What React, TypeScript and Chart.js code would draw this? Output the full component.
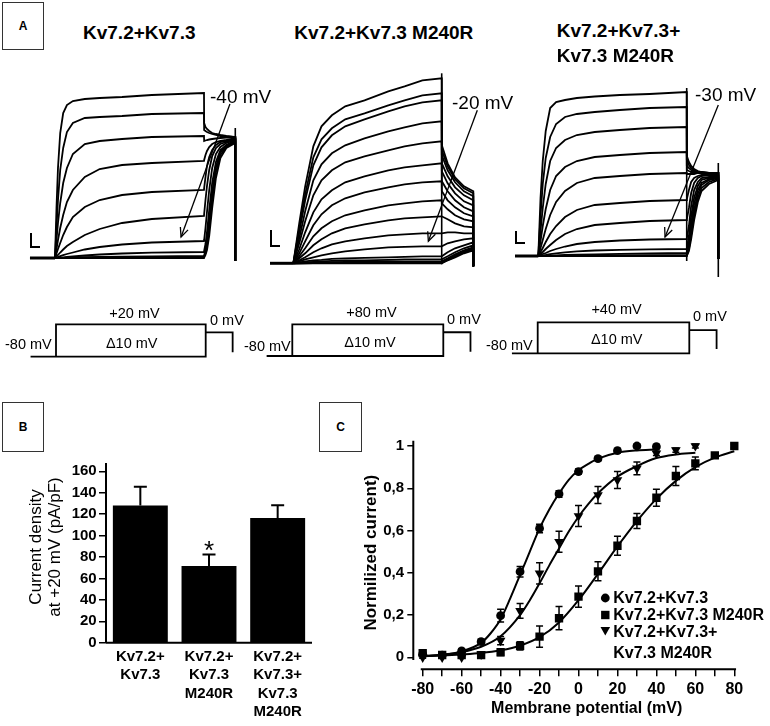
import React, { useEffect, useRef } from 'react';
import { Chart, registerables } from 'chart.js';

Chart.register(...registerables);

const FONT = '"Liberation Sans", Arial, Helvetica, sans-serif';
Chart.defaults.font.family = FONT;
Chart.defaults.color = '#000';

// ================= Panel A : current traces (time in ms, current in a.u.) =================
// A1  Kv7.2+Kv7.3, steps +20 ... -80 mV
const a1Holding = [[-168, 0], [0, 0]];
const a1ActTime = [0, 10, 20, 35, 55, 80, 120, 200, 300, 450, 650, 1000];
const a1Act = [
  [0, 50, 90, 125, 145, 153, 157, 159, 160, 161, 163, 165],
  [0, 30, 58, 88, 110, 126, 135, 140, 141, 142, 144, 145],
  [0, 18, 35, 55, 75, 90, 104, 114, 117, 119, 121, 122],
  [0, 9, 18, 30, 43, 56, 68, 81, 89, 93, 95, 97],
  [0, 4.5, 9, 15, 23, 31, 41, 51, 58, 63, 66, 68],
  [0, 1.5, 3, 5.5, 8.5, 12, 16, 23, 29, 35, 39, 42],
  [0, 0.5, 1, 1.8, 2.8, 4, 5.5, 8.5, 11, 13.5, 15.5, 17],
  [0, 0, 0.2, 0.4, 0.7, 1, 1.5, 2.5, 3.5, 4.5, 5.3, 6],
  [0, 0, 0, 0.1, 0.2, 0.3, 0.5, 0.8, 1.1, 1.4, 1.7, 2],
  [0, 0, 0, 0, 0.1, 0.1, 0.2, 0.3, 0.5, 0.7, 0.8, 1],
  [0, 0, 0, 0, 0, 0, 0, 0, 0, 0, 0, 0],
];
const a1TailTime = [1001, 1010, 1020, 1035, 1055, 1080, 1110, 1150, 1210];
const a1Tail = [
  [135, 131, 129, 127, 125, 124, 123, 122, 121],
  [128, 127, 126, 125, 124, 123, 122, 121.5, 121],
  [117, 117.5, 118, 118.5, 119, 119.5, 120, 120.5, 121],
  [98, 103, 107, 111, 114, 116, 117, 118, 120],
  [70, 81, 92, 101, 108, 113, 116, 117, 119],
  [44, 58, 72, 88, 102, 110, 114, 116, 119],
  [18, 30, 46, 68, 90, 104, 111, 115, 118],
  [7, 14, 26, 48, 75, 96, 108, 113, 118],
  [2.5, 8, 18, 38, 66, 91, 106, 112, 117],
  [1.5, 5, 12, 30, 58, 86, 103, 111, 116],
  [0.5, 3, 8, 22, 50, 80, 100, 110, 115],
];
const a1EndLevel = -3;
const a1Artifacts = [[[1210, 130], [1210, -3]]];
const a1Arrow = [[1174, 154], [846, 21]];

// A2  Kv7.2+Kv7.3 M240R, steps +80 ... -80 mV
const a2Holding = [[-157, 0], [0, 0]];
const a2ActTime = [0, 40, 80, 135, 190, 260, 350, 480, 640, 750, 870, 1000];
const a2Act = [
  [0, 40, 77, 117, 137, 148, 157, 163, 172, 177, 183, 185],
  [0, 35, 69, 106, 124, 135, 144, 150, 158, 163, 168, 170],
  [0, 31, 63, 98, 116, 128, 137, 144, 152, 157, 161, 163],
  [0, 25, 52, 83, 99, 110, 118, 125, 132, 136, 140, 142],
  [0, 20, 42, 68, 83, 93, 101, 107, 113, 117, 120, 122],
  [0, 14, 31, 51, 64, 73, 81, 87, 93, 96, 98, 100],
  [0, 10, 22, 38, 49, 58, 65, 71, 76, 79, 81, 82],
  [0, 7, 15, 27, 35, 42, 48, 53, 58, 60, 62, 63],
  [0, 5, 10, 18, 24, 30, 35, 39, 43, 45, 46, 47],
  [0, 3, 6, 11, 15, 19, 22, 25, 28, 29, 30, 30],
  [0, 2, 4, 6, 8, 10, 12, 14, 16, 16.5, 17, 17],
  [0, 1, 2, 3, 3.5, 4.5, 5, 5.5, 6, 6.5, 7, 7],
  [0, 0.5, 1, 1.5, 2, 2.5, 3, 3, 3.5, 4, 4, 4],
  [0, 0.3, 0.5, 0.8, 1, 1.2, 1.5, 1.6, 1.8, 2, 2, 2],
  [0, 0, 0.2, 0.3, 0.5, 0.6, 0.7, 0.8, 0.9, 1, 1, 1],
  [0, 0, 0, 0.1, 0.2, 0.3, 0.3, 0.4, 0.4, 0.5, 0.5, 0.5],
  [0, 0, 0, 0, 0, 0, 0, 0, 0, 0, 0, 0],
];
const a2TailTime = [1001, 1040, 1090, 1150, 1213];
const a2Tail = [
  [118, 100, 86, 77, 72],
  [113, 97, 84, 75, 70],
  [108, 93, 81, 72, 67],
  [100, 87, 76, 68, 63],
  [92, 80, 70, 62, 58],
  [82, 72, 63, 56, 52],
  [72, 63, 56, 50, 47],
  [60, 54, 48, 44, 42],
  [47, 44, 40, 37, 36],
  [30, 31, 31, 30, 30],
  [17, 20, 22, 24, 25],
  [7, 11, 15, 18, 21],
  [4, 7, 11, 15, 18],
  [2, 5, 9, 13, 16],
  [1, 4, 8, 12, 15],
  [0.5, 3, 7, 11, 14],
  [0, 3, 6, 10, 13],
];
const a2EndLevel = -3;
const a2Artifacts = [[[1000, -1], [1000, 190]]];
const a2Arrow = [[1240, 153], [910, 22]];

// A3  Kv7.2+Kv7.3+Kv7.3 M240R, steps +40 ... -80 mV
const a3Holding = [[-157, 0], [0, 0]];
const a3ActTime = [0, 15, 30, 50, 80, 120, 180, 260, 380, 550, 750, 1000];
const a3Act = [
  [0, 58, 95, 125, 148, 154, 156, 158, 159.5, 161, 162, 164],
  [0, 40, 72, 98, 119, 132, 139, 142, 144, 146, 148, 149],
  [0, 25, 48, 72, 95, 108, 116, 121, 124, 126, 128, 129],
  [0, 15, 30, 47, 66, 80, 89, 95, 99, 101, 103, 104],
  [0, 8, 16, 27, 41, 54, 65, 73, 78, 80, 82, 83],
  [0, 4, 8, 14, 22, 30, 39, 46, 51, 53, 55, 56],
  [0, 2, 4, 7, 11, 16, 22, 27, 31, 33, 35, 36],
  [0, 1, 2, 3, 5, 7, 9.5, 12, 14, 15.5, 16.5, 17],
  [0, 0.3, 0.6, 1, 1.8, 2.6, 3.6, 4.6, 5.5, 6.2, 6.7, 7],
  [0, 0, 0, 0.2, 0.4, 0.6, 1, 1.3, 1.7, 2.2, 2.6, 3],
  [0, 0, 0, 0, 0.1, 0.2, 0.3, 0.4, 0.6, 0.7, 0.9, 1],
  [0, 0, 0, 0, 0, 0, 0, 0, 0, 0, 0, 0],
  [0, 0, 0, 0, 0, 0, 0, 0, 0, 0, 0, 0],
];
const a3TailTime = [1001, 1015, 1030, 1050, 1075, 1100, 1150, 1213];
const a3Tail = [
  [100, 94, 90, 87, 85, 84, 83, 83],
  [96, 91, 88, 86, 84, 84, 83, 83],
  [90, 88, 86, 85, 84, 83, 83, 83],
  [86, 85, 84, 84, 83, 83, 83, 83],
  [82, 82, 82, 82, 83, 83, 83, 83],
  [57, 66, 74, 78, 80, 81, 82, 82],
  [37, 48, 63, 73, 78, 80, 81, 81],
  [18, 30, 50, 66, 74, 78, 79, 80],
  [8, 20, 40, 58, 70, 76, 78, 80],
  [3, 13, 32, 52, 66, 73, 77, 79],
  [1, 9, 26, 46, 62, 71, 76, 78],
  [0, 7, 21, 41, 58, 68, 74, 77],
  [0, 5, 17, 36, 54, 65, 72, 76],
];
const a3EndLevel = -3;
const a3Artifacts = [[[1000, -5], [1000, 168]], [[1213, 93], [1213, -21]]];
const a3Arrow = [[1213, 151], [854, 19]];

// Voltage protocol (schematic levels: holding 0, test step 1, tail 0.75)
const protoBoxTime = [-170, 0, 0, 1000, 1000, 0];
const protoBoxLevel = [0, 0, 1, 1, 0, 0];
const protoTailTime = [1000, 1180, 1180];
const protoTailLevel = [0.75, 0.75, 0.135];

// ================= Panel B : current density at +20 mV =================
const bCategories = [
  ['Kv7.2+', 'Kv7.3'],
  ['Kv7.2+', 'Kv7.3', 'M240R'],
  ['Kv7.2+', 'Kv7.3+', 'Kv7.3', 'M240R'],
];
const bMeans = [128, 71.5, 116.5];
const bErrors = [17.7, 10.8, 11.8];
const bSignificant = [false, true, false];

// ================= Panel C : normalized G-V =================
const cVoltage = [-80, -70, -60, -50, -40, -30, -20, -10, 0, 10, 20, 30, 40, 50, 60, 70, 80];
const cWtMean = [0.015, 0.01, 0.03, 0.074, 0.197, 0.405, 0.61, 0.773, 0.879, 0.94, 0.978, 1.0, 0.997];
const cWtSem = [0.01, 0.01, 0.01, 0.012, 0.03, 0.025, 0.02, 0.015, 0.012, 0.01, 0.01, 0.01, 0.01];
const cMutMean = [0.02, 0.011, 0.01, 0.01, 0.024, 0.054, 0.098, 0.185, 0.287, 0.407, 0.528, 0.645, 0.755, 0.858, 0.918, 0.956, 1.0];
const cMutSem = [0.01, 0.01, 0.01, 0.01, 0.015, 0.02, 0.05, 0.055, 0.05, 0.045, 0.045, 0.035, 0.04, 0.045, 0.03, 0.01, 0.01];
const cCoMean = [0.0, 0.0, 0.0, 0.014, 0.079, 0.22, 0.397, 0.547, 0.669, 0.768, 0.839, 0.894, 0.965, 0.981, 1.0];
const cCoSem = [0.005, 0.005, 0.005, 0.01, 0.02, 0.035, 0.05, 0.05, 0.05, 0.04, 0.04, 0.03, 0.01, 0.01, 0.01];
const cFitWtV = [-80, -70, -60, -50, -45, -40, -35, -30, -25, -20, -15, -10, -5, 0, 5, 10, 20, 30, 40];
const cFitWt = [0.006, 0.012, 0.028, 0.068, 0.115, 0.18, 0.28, 0.39, 0.5, 0.61, 0.7, 0.775, 0.84, 0.885, 0.915, 0.94, 0.968, 0.979, 0.983];
const cFitCoV = [-80, -70, -60, -50, -40, -30, -25, -20, -15, -10, -5, 0, 5, 10, 20, 30, 40, 50, 60];
const cFitCo = [0.006, 0.012, 0.025, 0.05, 0.1, 0.2, 0.27, 0.35, 0.435, 0.515, 0.595, 0.665, 0.725, 0.776, 0.855, 0.905, 0.943, 0.96, 0.968];
const cFitMutV = [-80, -70, -60, -50, -40, -30, -20, -10, 0, 10, 20, 30, 40, 50, 60, 70, 80];
const cFitMut = [0.005, 0.008, 0.013, 0.02, 0.033, 0.055, 0.095, 0.165, 0.27, 0.395, 0.525, 0.645, 0.75, 0.835, 0.9, 0.945, 0.975];
const cLegend = ['Kv7.2+Kv7.3', 'Kv7.2+Kv7.3 M240R', 'Kv7.2+Kv7.3+', 'Kv7.3 M240R'];

// ================= helpers =================
type Pt = { x: number; y: number };
const toPts = (arr: number[][]): Pt[] => arr.map(([x, y]) => ({ x, y }));
const zipPts = (xs: number[], ys: number[]): Pt[] => ys.map((y, i) => ({ x: xs[i], y }));

// value range that a canvas spanning [c0, c0+size] px covers, given two px->value anchors
function spanOf(c0: number, size: number, p0: number, v0: number, p1: number, v1: number) {
  const k = (v1 - v0) / (p1 - p0);
  const a = v0 + (c0 - p0) * k;
  const b = v0 + (c0 + size - p0) * k;
  return [Math.min(a, b), Math.max(a, b)];
}

function ChartCanvas({ left, top, width, height, build }: any) {
  const ref = useRef<HTMLCanvasElement>(null);
  useEffect(() => {
    const chart = new Chart(ref.current as HTMLCanvasElement, build());
    return () => chart.destroy();
  }, []);
  return (
    <canvas
      ref={ref}
      width={width}
      height={height}
      style={{ position: 'absolute', left, top, width, height }}
    />
  );
}

function Txt({ x, y, size = 14, bold = false, align = 'left', children }: any) {
  const tx = align === 'center' ? '-50%' : align === 'right' ? '-100%' : '0';
  return (
    <div
      style={{
        position: 'absolute',
        left: x,
        top: y,
        transform: `translate(${tx}, -50%)`,
        fontFamily: FONT,
        fontSize: size,
        fontWeight: bold ? 700 : 400,
        lineHeight: 1,
        whiteSpace: 'nowrap',
        color: '#000',
      }}
    >
      {children}
    </div>
  );
}

function LetterBox({ x, y, w, h, letter }: any) {
  return (
    <div
      style={{
        position: 'absolute',
        left: x,
        top: y,
        width: w,
        height: h,
        boxSizing: 'border-box',
        border: '1px solid #333',
        display: 'flex',
        alignItems: 'center',
        justifyContent: 'center',
        fontFamily: FONT,
        fontWeight: 700,
        fontSize: 12,
        color: '#000',
        background: '#fff',
      }}
    >
      {letter}
    </div>
  );
}

function ScaleBar({ x, y, w, h }: any) {
  return (
    <div
      style={{
        position: 'absolute',
        left: x,
        top: y,
        width: w,
        height: h,
        boxSizing: 'border-box',
        borderLeft: '2px solid #000',
        borderBottom: '2px solid #000',
      }}
    />
  );
}

const arrowPlugin = (arrow: number[][]) => ({
  id: 'arrowAnno',
  afterDatasetsDraw(chart: any) {
    const { ctx, scales } = chart;
    const x1 = scales.x.getPixelForValue(arrow[0][0]);
    const y1 = scales.y.getPixelForValue(arrow[0][1]);
    const x2 = scales.x.getPixelForValue(arrow[1][0]);
    const y2 = scales.y.getPixelForValue(arrow[1][1]);
    const ang = Math.atan2(y2 - y1, x2 - x1);
    const len = 10;
    const spr = 0.42;
    ctx.save();
    ctx.strokeStyle = '#000';
    ctx.lineWidth = 1.3;
    ctx.beginPath();
    ctx.moveTo(x1, y1);
    ctx.lineTo(x2, y2);
    ctx.stroke();
    ctx.beginPath();
    ctx.moveTo(x2 - len * Math.cos(ang - spr), y2 - len * Math.sin(ang - spr));
    ctx.lineTo(x2, y2);
    ctx.lineTo(x2 - len * Math.cos(ang + spr), y2 - len * Math.sin(ang + spr));
    ctx.stroke();
    ctx.restore();
  },
});

function traceBuild(p: any) {
  return () => {
    const [xMin, xMax] = spanOf(p.left, p.width, p.t0px, 0, p.t1000px, 1000);
    const [yMin, yMax] = spanOf(p.top, p.height, p.basePx, 0, p.basePx - 100, 100);
    const line = (data: Pt[], w = 1.8) => ({
      data,
      borderColor: '#000',
      borderWidth: w,
      pointRadius: 0,
      tension: 0,
      fill: false,
    });
    const endT = p.tailTime[p.tailTime.length - 1];
    const datasets: any[] = [line(toPts(p.holding), 3)];
    p.act.forEach((a: number[], i: number) => {
      datasets.push(
        line([
          ...zipPts(p.actTime, a),
          ...zipPts(p.tailTime, p.tail[i]),
          { x: endT, y: p.endLevel },
        ])
      );
    });
    p.artifacts.forEach((art: number[][]) => datasets.push(line(toPts(art), 1.6)));
    return {
      type: 'line',
      data: { datasets },
      options: {
        responsive: false,
        animation: false,
        events: [],
        layout: { padding: 0 },
        plugins: { legend: { display: false }, tooltip: { enabled: false } },
        scales: {
          x: { type: 'linear', display: false, min: xMin, max: xMax },
          y: { type: 'linear', display: false, min: yMin, max: yMax },
        },
      },
      plugins: [arrowPlugin(p.arrow)],
    };
  };
}

function protoBuild(p: any) {
  return () => {
    const [xMin, xMax] = spanOf(p.left, p.width, p.t0px, 0, p.t1000px, 1000);
    const [yMin, yMax] = spanOf(p.top, p.height, p.lev0px, 0, p.lev1px, 1);
    const line = (data: Pt[]) => ({
      data,
      borderColor: '#000',
      borderWidth: 1.8,
      pointRadius: 0,
      tension: 0,
      fill: false,
    });
    return {
      type: 'line',
      data: {
        datasets: [
          line(zipPts(protoBoxTime, protoBoxLevel)),
          line(zipPts(protoTailTime, protoTailLevel)),
        ],
      },
      options: {
        responsive: false,
        animation: false,
        events: [],
        layout: { padding: 0 },
        plugins: { legend: { display: false }, tooltip: { enabled: false } },
        scales: {
          x: { type: 'linear', display: false, min: xMin, max: xMax },
          y: { type: 'linear', display: false, min: yMin, max: yMax },
        },
      },
    };
  };
}

// ---------- Panel B ----------
const B_RECT = { left: 0, top: 440, width: 330, height: 286 };
function buildB() {
  const decor = {
    id: 'bDecor',
    afterDatasetsDraw(chart: any) {
      const { ctx, chartArea, scales } = chart;
      const ys = scales.y;
      const meta = chart.getDatasetMeta(0);
      ctx.save();
      ctx.strokeStyle = '#000';
      ctx.fillStyle = '#000';
      ctx.lineWidth = 2;
      meta.data.forEach((bar: any, i: number) => {
        const yTop = ys.getPixelForValue(bMeans[i] + bErrors[i]);
        ctx.beginPath();
        ctx.moveTo(bar.x, bar.y);
        ctx.lineTo(bar.x, yTop);
        ctx.moveTo(bar.x - 6.5, yTop);
        ctx.lineTo(bar.x + 6.5, yTop);
        ctx.stroke();
        if (bSignificant[i]) {
          ctx.font = `400 26px ${FONT}`;
          ctx.textAlign = 'center';
          ctx.textBaseline = 'alphabetic';
          ctx.fillText('*', bar.x, yTop + 4);
        }
      });
      // axes
      ctx.beginPath();
      ctx.moveTo(chartArea.left, ys.getPixelForValue(0));
      ctx.lineTo(chartArea.left, ys.getPixelForValue(167.8));
      ctx.moveTo(chartArea.left, ys.getPixelForValue(0));
      ctx.lineTo(chartArea.right, ys.getPixelForValue(0));
      ctx.stroke();
      ctx.restore();
    },
  };
  return {
    type: 'bar',
    data: {
      labels: bCategories,
      datasets: [
        {
          data: bMeans,
          backgroundColor: '#000',
          borderWidth: 0,
          barPercentage: 0.8,
          categoryPercentage: 1,
        },
      ],
    },
    options: {
      responsive: false,
      animation: false,
      events: [],
      layout: { padding: { left: 0, right: 18, top: 11, bottom: 0 } },
      plugins: { legend: { display: false }, tooltip: { enabled: false } },
      scales: {
        x: {
          grid: { display: false, drawTicks: false },
          border: { display: false },
          ticks: {
            color: '#000',
            font: { size: 15, weight: 'bold', lineHeight: 1.22 },
            padding: 5,
            maxRotation: 0,
            autoSkip: false,
          },
          afterFit: (s: any) => {
            s.height = 83.3;
          },
        },
        y: {
          min: 0,
          max: 178.7,
          grid: { drawOnChartArea: false, drawTicks: true, tickLength: 7, color: '#000', lineWidth: 1.5 },
          border: { display: false },
          ticks: {
            stepSize: 20,
            includeBounds: false,
            color: '#000',
            font: { size: 15, weight: 'bold' },
            padding: 2.3,
          },
          title: {
            display: true,
            text: ['Current density', 'at +20 mV (pA/pF)'],
            color: '#000',
            font: { size: 17, lineHeight: 1.15 },
            padding: { top: 26.2, bottom: 0 },
          },
          afterFit: (s: any) => {
            s.width = 106;
          },
        },
      },
    },
    plugins: [decor],
  };
}

// ---------- Panel C ----------
const C_RECT = { left: 330, top: 420, width: 440, height: 306 };
function buildC() {
  // px anchors: -80 mV -> 422.7, 80 mV -> 734.3 ; 0 -> 657.3, 1 -> 446
  const [xMin, xMax] = spanOf(413.3, 760 - 413.3, 422.7, -80, 734.3, 80);
  const [yMin, yMax] = spanOf(436, 669.3 - 436, 657.3, 0, 446, 1);
  const groups = [
    { mean: cWtMean, sem: cWtSem },
    { mean: cMutMean, sem: cMutSem },
    { mean: cCoMean, sem: cCoSem },
  ];
  const drawMarker = (ctx: any, kind: number, x: number, y: number) => {
    ctx.beginPath();
    if (kind === 0) {
      ctx.arc(x, y, 4.4, 0, Math.PI * 2);
    } else if (kind === 1) {
      ctx.rect(x - 4.2, y - 4.2, 8.4, 8.4);
    } else {
      ctx.moveTo(x - 4.8, y - 3.6);
      ctx.lineTo(x + 4.8, y - 3.6);
      ctx.lineTo(x, y + 4.8);
      ctx.closePath();
    }
    ctx.fill();
  };
  const decor = {
    id: 'cDecor',
    afterDatasetsDraw(chart: any) {
      const { ctx, chartArea, scales } = chart;
      const xs = scales.x;
      const ys = scales.y;
      ctx.save();
      ctx.strokeStyle = '#000';
      ctx.fillStyle = '#000';
      ctx.lineWidth = 1.5;
      groups.forEach((g) => {
        g.mean.forEach((m, i) => {
          const x = xs.getPixelForValue(cVoltage[i]);
          const yA = ys.getPixelForValue(m - g.sem[i]);
          const yB = ys.getPixelForValue(m + g.sem[i]);
          ctx.beginPath();
          ctx.moveTo(x, yA);
          ctx.lineTo(x, yB);
          ctx.moveTo(x - 3.5, yA);
          ctx.lineTo(x + 3.5, yA);
          ctx.moveTo(x - 3.5, yB);
          ctx.lineTo(x + 3.5, yB);
          ctx.stroke();
        });
      });
      // axes
      ctx.lineWidth = 2;
      ctx.beginPath();
      ctx.moveTo(chartArea.left, ys.getPixelForValue(-0.013));
      ctx.lineTo(chartArea.left, ys.getPixelForValue(1.025));
      ctx.moveTo(xs.getPixelForValue(-81), chartArea.bottom);
      ctx.lineTo(xs.getPixelForValue(80.9), chartArea.bottom);
      ctx.stroke();
      // legend
      const lx = 605.3 - C_RECT.left;
      const tx = 613.3 - C_RECT.left;
      const rows = [598, 615, 631.7, 652.7].map((v) => v - C_RECT.top);
      drawMarker(ctx, 0, lx, rows[0]);
      drawMarker(ctx, 1, lx, rows[1]);
      drawMarker(ctx, 2, lx, rows[2] - 1);
      ctx.font = `700 16px ${FONT}`;
      ctx.textAlign = 'left';
      ctx.textBaseline = 'middle';
      cLegend.forEach((t, i) => ctx.fillText(t, tx, rows[i] + 0.8));
      ctx.restore();
    },
  };
  const markerSet = (mean: number[], style: string, radius: number, rot = 0) => ({
    data: zipPts(cVoltage, mean),
    showLine: false,
    pointStyle: style,
    pointRadius: radius,
    pointRotation: rot,
    pointBackgroundColor: '#000',
    pointBorderColor: '#000',
    pointBorderWidth: 0,
  });
  const fitSet = (xs: number[], ys: number[]) => ({
    data: zipPts(xs, ys),
    borderColor: '#000',
    borderWidth: 2,
    pointRadius: 0,
    cubicInterpolationMode: 'monotone',
    fill: false,
  });
  return {
    type: 'line',
    data: {
      datasets: [
        markerSet(cWtMean, 'circle', 4.4),
        markerSet(cMutMean, 'rect', 5.9),
        markerSet(cCoMean, 'triangle', 5.6, 180),
        fitSet(cFitWtV, cFitWt),
        fitSet(cFitCoV, cFitCo),
        fitSet(cFitMutV, cFitMut),
      ],
    },
    options: {
      responsive: false,
      animation: false,
      events: [],
      layout: { padding: { left: 0, right: 10, top: 16, bottom: 0 } },
      plugins: { legend: { display: false }, tooltip: { enabled: false } },
      scales: {
        x: {
          type: 'linear',
          min: xMin,
          max: xMax,
          grid: { drawOnChartArea: false, drawTicks: true, tickLength: 7, color: '#000', lineWidth: 1.5 },
          border: { display: false },
          afterBuildTicks: (s: any) => {
            s.ticks = s.ticks.filter((t: any) => t.value >= -80 && t.value <= 80);
          },
          ticks: {
            stepSize: 10,
            includeBounds: false,
            autoSkip: false,
            maxRotation: 0,
            color: '#000',
            font: { size: 16, weight: 'bold', lineHeight: 1.2 },
            padding: 4.1,
            callback: (v: number) => (Math.round(v) % 20 === 0 ? String(Math.round(v)) : ''),
          },
          title: {
            display: true,
            text: 'Membrane potential (mV)',
            color: '#000',
            font: { size: 16, weight: 'bold', lineHeight: 1.2 },
            padding: { top: 0, bottom: 8.1 },
          },
          afterFit: (s: any) => {
            s.height = 56.7;
          },
        },
        y: {
          type: 'linear',
          min: yMin,
          max: yMax,
          grid: { drawOnChartArea: false, drawTicks: true, tickLength: 6, color: '#000', lineWidth: 1.5 },
          border: { display: false },
          ticks: {
            stepSize: 0.2,
            includeBounds: false,
            color: '#000',
            font: { size: 15, weight: 'bold' },
            padding: 3.3,
            callback: (v: number) => {
              const r = Math.round(v * 10) / 10;
              if (r === 0) return '0';
              if (r === 1) return '1';
              return r.toFixed(1).replace('.', ',');
            },
          },
          title: {
            display: true,
            text: 'Normilized current)',
            color: '#000',
            font: { size: 17, weight: 'bold', lineHeight: 1.2 },
            padding: { top: 31.5, bottom: 0 },
          },
          afterFit: (s: any) => {
            s.width = 83.3;
          },
        },
      },
    },
    plugins: [decor],
  };
}

// ---------- layout of the trace / protocol canvases ----------
const A1 = { left: 20, top: 60, width: 230, height: 215, t0px: 55, t1000px: 204, basePx: 258 };
const A2 = { left: 262, top: 60, width: 230, height: 215, t0px: 293.3, t1000px: 441.7, basePx: 263.3 };
const A3 = { left: 505, top: 60, width: 235, height: 225, t0px: 538.3, t1000px: 686.7, basePx: 256 };
const P1 = { left: 20, top: 315, width: 230, height: 50, t0px: 56, t1000px: 205.7, lev0px: 356.7, lev1px: 324.3 };
const P2 = { left: 260, top: 315, width: 230, height: 50, t0px: 292.3, t1000px: 443.3, lev0px: 356, lev1px: 324.3 };
const P3 = { left: 505, top: 312, width: 230, height: 50, t0px: 537.7, t1000px: 689.3, lev0px: 353.3, lev1px: 322.3 };

export default function App() {
  return (
    <div
      style={{
        position: 'absolute',
        left: 0,
        top: 0,
        width: 770,
        height: 726,
        overflow: 'hidden',
        background: '#fff',
        fontFamily: FONT,
      }}
    >
      {/* Panel A traces */}
      <ChartCanvas
        {...A1}
        build={traceBuild({ ...A1, holding: a1Holding, actTime: a1ActTime, act: a1Act, tailTime: a1TailTime, tail: a1Tail, endLevel: a1EndLevel, artifacts: a1Artifacts, arrow: a1Arrow })}
      />
      <ChartCanvas
        {...A2}
        build={traceBuild({ ...A2, holding: a2Holding, actTime: a2ActTime, act: a2Act, tailTime: a2TailTime, tail: a2Tail, endLevel: a2EndLevel, artifacts: a2Artifacts, arrow: a2Arrow })}
      />
      <ChartCanvas
        {...A3}
        build={traceBuild({ ...A3, holding: a3Holding, actTime: a3ActTime, act: a3Act, tailTime: a3TailTime, tail: a3Tail, endLevel: a3EndLevel, artifacts: a3Artifacts, arrow: a3Arrow })}
      />
      {/* protocols */}
      <ChartCanvas {...P1} build={protoBuild(P1)} />
      <ChartCanvas {...P2} build={protoBuild(P2)} />
      <ChartCanvas {...P3} build={protoBuild(P3)} />
      {/* Panel B, C */}
      <ChartCanvas {...B_RECT} build={buildB} />
      <ChartCanvas {...C_RECT} build={buildC} />

      {/* labels */}
      <LetterBox x={2} y={2} w={42} h={48} letter="A" />
      <LetterBox x={2} y={402} w={42} h={50} letter="B" />
      <LetterBox x={319} y={402} w={43} h={50} letter="C" />

      <Txt x={83} y={31.7} size={19} bold>Kv7.2+Kv7.3</Txt>
      <Txt x={294.3} y={31.7} size={19} bold>Kv7.2+Kv7.3 M240R</Txt>
      <Txt x={556.7} y={30} size={19} bold>Kv7.2+Kv7.3+</Txt>
      <Txt x={556.7} y={55} size={19} bold>Kv7.3 M240R</Txt>

      <Txt x={210} y={96} size={19}>-40 mV</Txt>
      <Txt x={452} y={101.7} size={19}>-20 mV</Txt>
      <Txt x={695} y={93.5} size={19}>-30 mV</Txt>

      <ScaleBar x={30} y={233} w={10} h={15} />
      <ScaleBar x={270} y={230} w={10} h={17} />
      <ScaleBar x={515} y={231} w={10} h={13} />

      <Txt x={5} y={344} size={14.5}>-80 mV</Txt>
      <Txt x={134.5} y={313} size={14.5} align="center">+20 mV</Txt>
      <Txt x={131.7} y={342.7} size={14.5} align="center">Δ10 mV</Txt>
      <Txt x={210} y={320} size={14.5}>0 mV</Txt>

      <Txt x={244} y={346} size={14.5}>-80 mV</Txt>
      <Txt x={371.5} y={312} size={14.5} align="center">+80 mV</Txt>
      <Txt x={370} y={341.7} size={14.5} align="center">Δ10 mV</Txt>
      <Txt x={447} y={319} size={14.5}>0 mV</Txt>

      <Txt x={486} y={345} size={14.5}>-80 mV</Txt>
      <Txt x={616.6} y={309} size={14.5} align="center">+40 mV</Txt>
      <Txt x={616.7} y={339.3} size={14.5} align="center">Δ10 mV</Txt>
      <Txt x={693} y={316} size={14.5}>0 mV</Txt>
    </div>
  );
}
